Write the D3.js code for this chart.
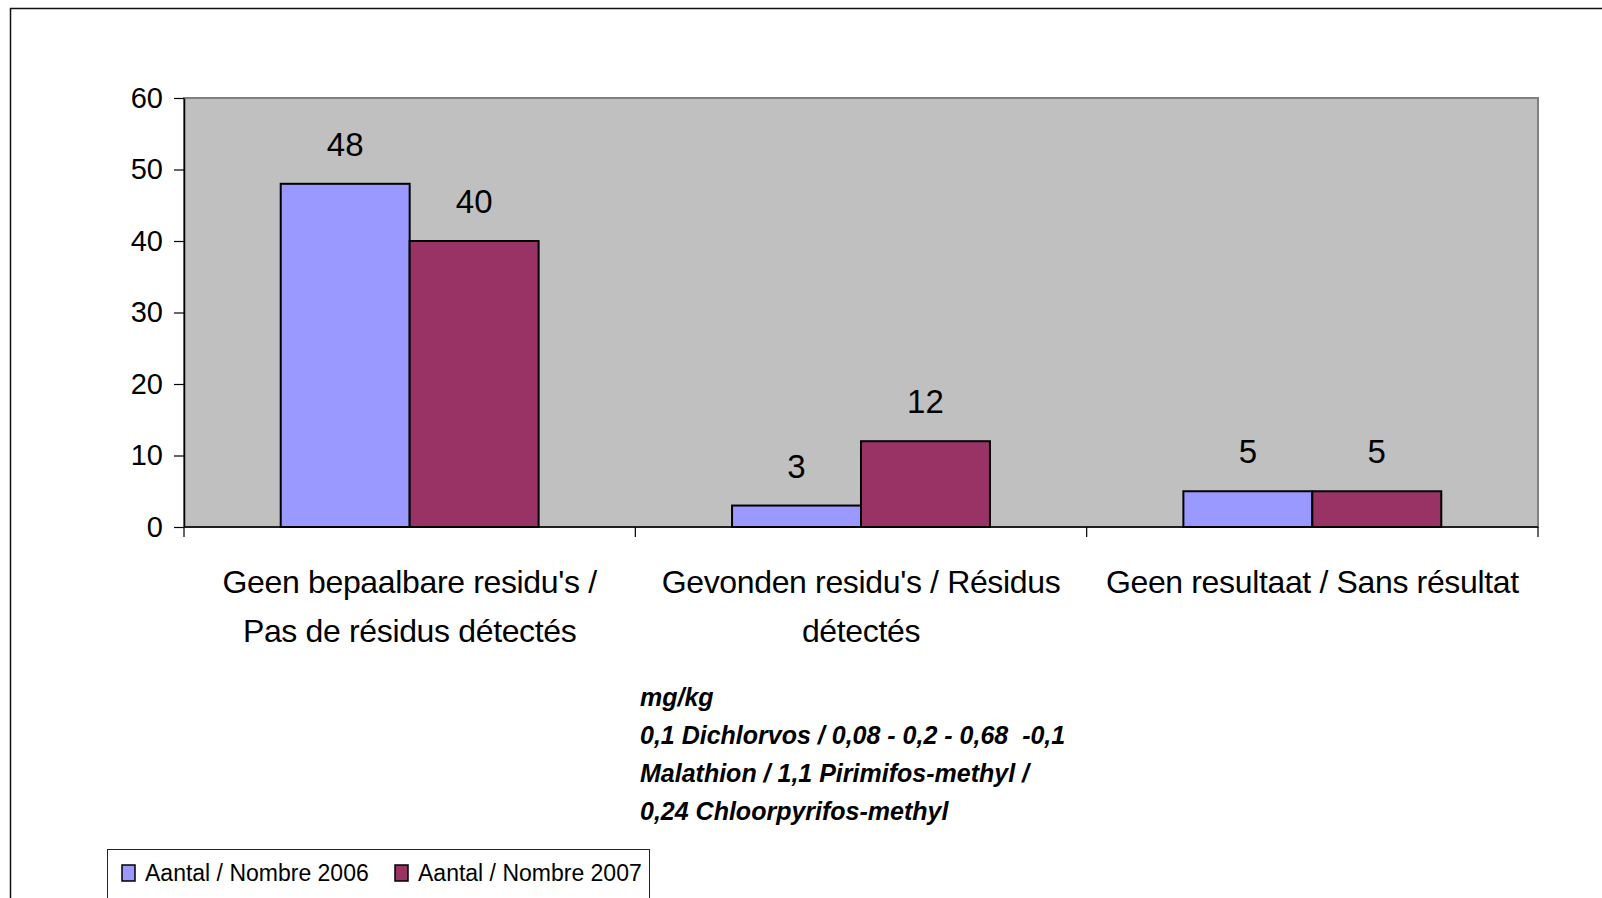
<!DOCTYPE html>
<html>
<head>
<meta charset="utf-8">
<script src="https://cdn.jsdelivr.net/npm/d3@7"></script>
<style>
  html, body { margin: 0; padding: 0; background: #fff; }
  svg { display: block; }
  text { font-family: "Liberation Sans", Arial, sans-serif; }
</style>
</head>
<body>
<svg id="chart" width="1602" height="898"></svg>
<script>
// ---- data ----
const categories = [
  "Geen bepaalbare residu's / Pas de résidus détectés",
  "Gevonden residu's / Résidus détectés",
  "Geen resultaat / Sans résultat"
];
const categoryLines = [
  ["Geen bepaalbare residu's /", "Pas de résidus détectés"],
  ["Gevonden residu's / Résidus", "détectés"],
  ["Geen resultaat / Sans résultat"]
];
const seriesNames = ["Aantal / Nombre 2006", "Aantal / Nombre 2007"];
const values2006 = [48, 3, 5];
const values2007 = [40, 12, 5];
const yTicks = [0, 10, 20, 30, 40, 50, 60];
const noteLines = [
  "mg/kg",
  "0,1 Dichlorvos / 0,08 - 0,2 - 0,68  -0,1",
  "Malathion / 1,1 Pirimifos-methyl /",
  "0,24 Chloorpyrifos-methyl"
];
const colors = ["#9999FF", "#993366"];

// ---- layout ----
const plot = { left: 184, right: 1538, top: 98, bottom: 527 };
const svg = d3.select("#chart");

// outer chart border (extends beyond the window on right/bottom)
svg.append("rect")
  .attr("x", 10.5).attr("y", 8.5)
  .attr("width", 1700).attr("height", 1000)
  .attr("fill", "none").attr("stroke", "#111").attr("stroke-width", 1.5);

const x = d3.scaleBand().domain(categories).range([plot.left, plot.right]).padding(0);
const x1 = d3.scaleBand().domain(seriesNames).range([0, x.bandwidth()])
  .paddingInner(0).paddingOuter(0.75);
const y = d3.scaleLinear().domain([0, 60]).range([plot.bottom, plot.top]);

// plot area
svg.append("rect")
  .attr("x", plot.left).attr("y", plot.top)
  .attr("width", plot.right - plot.left).attr("height", plot.bottom - plot.top)
  .attr("fill", "#C0C0C0").attr("stroke", "#808080").attr("stroke-width", 2);

// bars
const rows = categories.map((c, i) => ({ cat: c, vals: [values2006[i], values2007[i]] }));
const groups = svg.append("g").selectAll("g").data(rows).join("g")
  .attr("transform", d => `translate(${x(d.cat)},0)`);

groups.selectAll("rect")
  .data(d => d.vals.map((v, j) => ({ name: seriesNames[j], v, j })))
  .join("rect")
  .attr("x", d => x1(d.name))
  .attr("y", d => y(d.v))
  .attr("width", x1.bandwidth())
  .attr("height", d => y(0) - y(d.v))
  .attr("fill", d => colors[d.j])
  .attr("stroke", "#000").attr("stroke-width", 2);

groups.selectAll("text.val")
  .data(d => d.vals.map((v, j) => ({ name: seriesNames[j], v })))
  .join("text").attr("class", "val")
  .attr("x", d => x1(d.name) + x1.bandwidth() / 2)
  .attr("y", d => y(d.v) - 28)
  .attr("text-anchor", "middle")
  .attr("font-size", 33)
  .attr("fill", "#000")
  .text(d => d.v);

// y axis
const yAxis = svg.append("g")
  .attr("transform", `translate(${plot.left},0)`)
  .call(d3.axisLeft(y).tickValues(yTicks).tickSize(10).tickSizeOuter(0).tickPadding(11));
yAxis.select(".domain").attr("stroke", "#000").attr("stroke-width", 1.5);
yAxis.selectAll(".tick line").attr("stroke", "#000").attr("stroke-width", 1.2);
yAxis.selectAll(".tick text")
  .attr("font-family", "Liberation Sans, Arial, sans-serif")
  .attr("font-size", 29).attr("fill", "#000");

// x axis line + boundary ticks
svg.append("line")
  .attr("x1", plot.left).attr("x2", plot.right)
  .attr("y1", y(0)).attr("y2", y(0))
  .attr("stroke", "#000").attr("stroke-width", 1.5);
const bounds = categories.map(c => x(c)).concat([x.range()[1]]);
svg.append("g").selectAll("line").data(bounds).join("line")
  .attr("x1", d => d).attr("x2", d => d)
  .attr("y1", y(0)).attr("y2", y(0) + 10)
  .attr("stroke", "#000").attr("stroke-width", 1.2);

// category labels
const catG = svg.append("g").selectAll("text").data(categories).join("text")
  .attr("text-anchor", "middle")
  .attr("font-size", 32)
  .attr("letter-spacing", -0.35)
  .attr("fill", "#000");
catG.each(function (c, i) {
  const t = d3.select(this);
  categoryLines[i].forEach((ln, k) => {
    t.append("tspan")
      .attr("x", x(c) + x.bandwidth() / 2)
      .attr("y", y(0) + 66 + k * 49)
      .text(ln);
  });
});

// note text
svg.append("g").selectAll("text").data(noteLines).join("text")
  .attr("x", 640)
  .attr("y", (d, i) => 706 + i * 38)
  .attr("font-size", 25)
  .attr("font-weight", "bold")
  .attr("font-style", "italic")
  .style("white-space", "pre")
  .attr("fill", "#000")
  .text(d => d);

// legend
const leg = svg.append("g");
leg.append("rect")
  .attr("x", 107.5).attr("y", 849.5)
  .attr("width", 542).attr("height", 100)
  .attr("fill", "#fff").attr("stroke", "#222").attr("stroke-width", 1);
const legX = [122, 395];
const items = leg.selectAll("g").data(seriesNames).join("g")
  .attr("transform", (d, i) => `translate(${legX[i]},0)`);
items.append("rect")
  .attr("x", 0).attr("y", 865).attr("width", 13).attr("height", 16)
  .attr("fill", (d, i) => colors[i]).attr("stroke", "#000").attr("stroke-width", 1.5);
items.append("text")
  .attr("x", 23).attr("y", 881)
  .attr("font-size", 23).attr("fill", "#000")
  .text(d => d);
</script>
</body>
</html>
